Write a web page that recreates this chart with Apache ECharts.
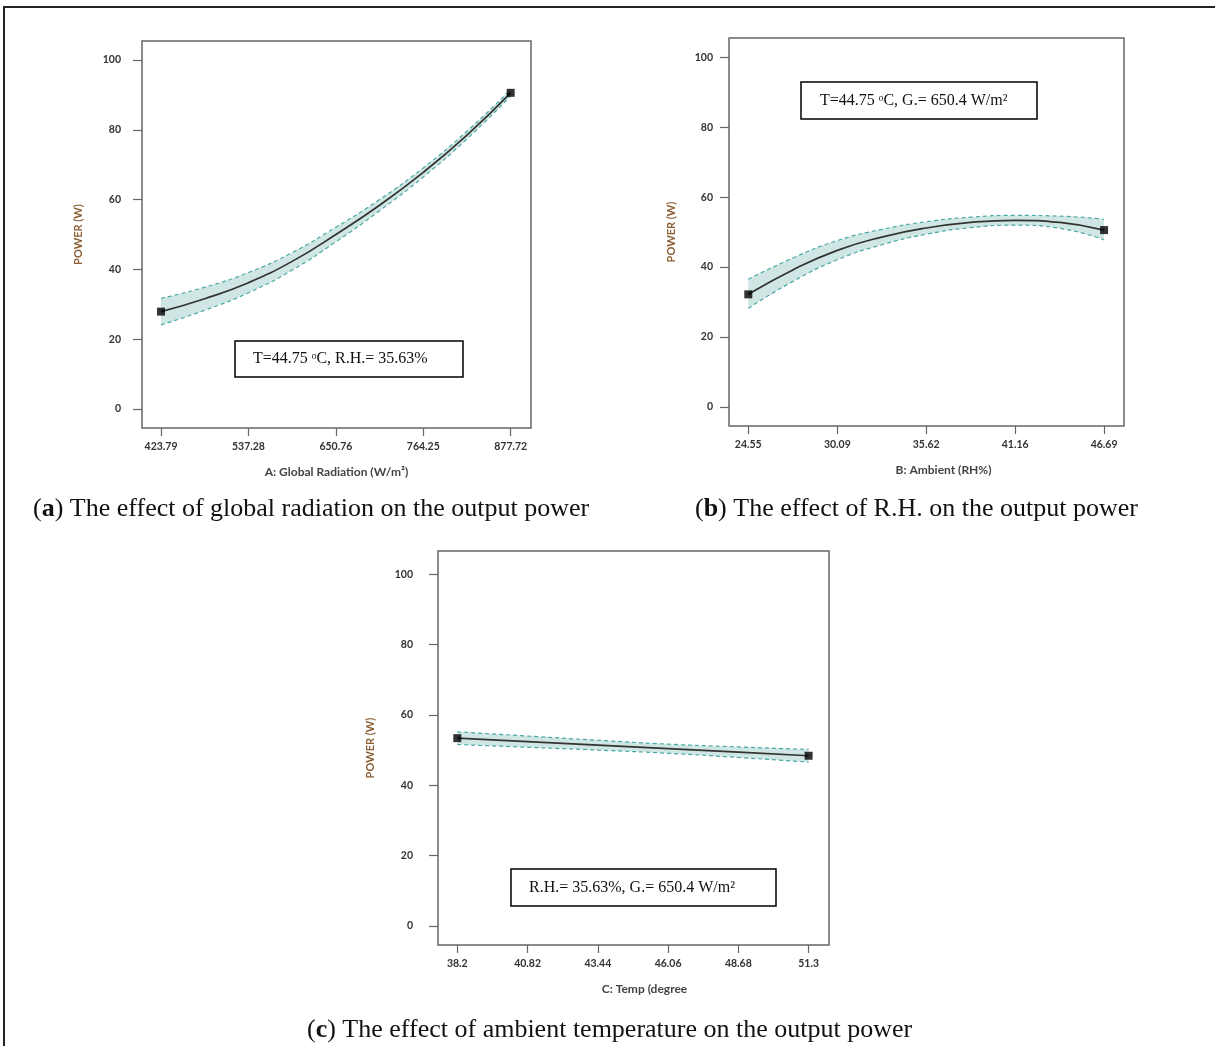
<!DOCTYPE html>
<html>
<head>
<meta charset="utf-8">
<script src="https://cdn.jsdelivr.net/npm/echarts@6/dist/echarts.min.js"></script>
<style>
  html, body { margin: 0; padding: 0; background: #fff; }
  #frame {
    position: absolute; left: 3px; top: 6px; width: 1215px; height: 1046px;
    border-top: 2px solid #222; border-left: 2px solid #222;
  }
  #main { position: absolute; left: 0; top: 0; width: 1215px; height: 1046px; }
</style>
</head>
<body>
<div id="frame"></div>
<div id="main"></div>
<script>
// (a) global radiation
const aX = [423.79, 480.5, 537.28, 594, 650.76, 707.5, 764.25, 821, 877.72];
const aMid = [27.9, 31.6, 36.2, 42.3, 50.0, 58.4, 67.8, 78.5, 90.6];
const aUp = [31.7, 34.9, 39.1, 44.8, 52.1, 60.0, 69.1, 79.6, 91.5];
const aLow = [24.1, 28.3, 33.3, 39.8, 47.9, 56.8, 66.5, 77.4, 89.7];
const aTicks = [423.79, 537.28, 650.76, 764.25, 877.72];

// (b) relative humidity
const bX = [24.55, 27.32, 30.09, 32.86, 35.62, 38.39, 41.16, 43.93, 46.69];
const bMid = [32.2, 39.2, 44.8, 48.6, 51.2, 52.8, 53.4, 52.8, 50.6];
const bUp = [36.5, 42.6, 47.6, 50.8, 53.0, 54.3, 54.8, 54.6, 53.7];
const bLow = [28.2, 35.9, 42.1, 46.4, 49.4, 51.3, 52.0, 51.1, 47.8];
const bTicks = [24.55, 30.09, 35.62, 41.16, 46.69];

// (c) ambient temperature
const cX = [38.2, 40.82, 43.44, 46.06, 48.68, 51.3];
const cMid = [53.4, 52.4, 51.4, 50.4, 49.4, 48.4];
const cUp = [55.2, 54.0, 52.8, 51.7, 50.9, 50.2];
const cLow = [51.6, 50.8, 50.0, 49.1, 47.9, 46.6];
const cTicks = [38.2, 40.82, 43.44, 46.06, 48.68, 51.3];

const yTicks = [0, 20, 40, 60, 80, 100];

const chart = echarts.init(document.getElementById('main'), null, { renderer: 'canvas' });

const boxColor = '#666';
const tealLine = '#4aa8a4';
const tealFill = '#cfe6e4';
const axisFont = 'Lato';

function xAxisOf(idx, min, max, ticks, name, shift) {
  return {
    type: 'value', gridIndex: idx, min: min, max: max,
    name: name, nameLocation: 'middle', nameGap: 38,
    nameTextStyle: { fontFamily: axisFont, fontSize: 12, color: '#444', fontWeight: 'bold', padding: [0, 0, 0, shift] },
    axisLine: { show: false, onZero: false },
    axisTick: { show: true, length: 8, customValues: ticks, lineStyle: { color: boxColor, width: 1.2 } },
    axisLabel: { customValues: ticks, margin: 13, fontFamily: axisFont, fontSize: 10.5, color: '#333', fontWeight: 'bold' },
    splitLine: { show: false }
  };
}

function yAxisOf(idx, min, max, labelMargin, nameGap) {
  return {
    type: 'value', gridIndex: idx, min: min, max: max,
    name: 'POWER (W)', nameLocation: 'middle', nameGap: nameGap, nameRotate: 90,
    nameTextStyle: { fontFamily: axisFont, fontSize: 11, color: '#8b5e34', fontWeight: 'bold' },
    axisLine: { show: false, onZero: false },
    axisTick: { show: true, length: 9, customValues: yTicks, lineStyle: { color: boxColor, width: 1.2 } },
    axisLabel: { customValues: yTicks, margin: labelMargin, fontFamily: axisFont, fontSize: 10.5, color: '#333', fontWeight: 'bold' },
    splitLine: { show: false }
  };
}

// band: lower bound + (upper - lower) stacked on it.
// data is [y, x] so that the first (stacked) dimension is y.
function panelSeries(idx, xs, mid, up, low) {
  const dashed = { color: tealLine, width: 1.2, type: [4, 3] };
  const stackId = 'band' + idx;
  return [
    {
      type: 'line', xAxisIndex: idx, yAxisIndex: idx, smooth: true, z: 2,
      stack: stackId, encode: { x: 1, y: 0 },
      symbol: 'none', lineStyle: dashed,
      data: xs.map((x, i) => [low[i], x])
    },
    {
      type: 'line', xAxisIndex: idx, yAxisIndex: idx, smooth: true, z: 2,
      stack: stackId, encode: { x: 1, y: 0 },
      symbol: 'none', lineStyle: dashed, areaStyle: { color: tealFill, opacity: 1 },
      data: xs.map((x, i) => [+(up[i] - low[i]).toFixed(2), x])
    },
    {
      type: 'line', xAxisIndex: idx, yAxisIndex: idx, smooth: true, z: 4,
      symbol: 'none', lineStyle: { color: '#333', width: 1.7 },
      data: xs.map((x, i) => [x, mid[i]])
    },
    {
      type: 'scatter', xAxisIndex: idx, yAxisIndex: idx, symbol: 'rect', symbolSize: 8,
      itemStyle: { color: '#000' }, z: 5,
      data: [[xs[0], mid[0]], [xs[xs.length - 1], mid[mid.length - 1]]]
    }
  ];
}

function noteBox(x, y, w, h, textLeft, text) {
  return {
    type: 'group', z: 100, children: [
      { type: 'rect', z: 100, shape: { x: x, y: y, width: w, height: h },
        style: { fill: '#fff', stroke: '#000', lineWidth: 1.5 } },
      { type: 'text', z: 101, x: textLeft, y: y + h / 2,
        style: { text: text, font: '16px "Liberation Serif"', fill: '#111', verticalAlign: 'middle' } }
    ]
  };
}

const captionStyle = {
  fontFamily: 'Liberation Serif', fontSize: 26, color: '#111', fontWeight: 'normal',
  rich: { b: { fontFamily: 'Liberation Serif', fontSize: 26, fontWeight: 'bold', color: '#111' } }
};

const option = {
  animation: false,
  title: [
    { text: '({b|a}) The effect of global radiation on the output power', left: 33, top: 496, padding: 0, textStyle: captionStyle },
    { text: '({b|b}) The effect of R.H. on the output power', left: 695, top: 496, padding: 0, textStyle: captionStyle },
    { text: '({b|c}) The effect of ambient temperature on the output power', left: 307, top: 1017, padding: 0, textStyle: captionStyle }
  ],
  grid: [
    { left: 142, top: 41, width: 389, height: 387, show: true, borderColor: boxColor, borderWidth: 1.5 },
    { left: 729, top: 38, width: 395, height: 388, show: true, borderColor: boxColor, borderWidth: 1.5 },
    { left: 438, top: 551, width: 391, height: 394, show: true, borderColor: boxColor, borderWidth: 1.5 }
  ],
  xAxis: [
    xAxisOf(0, 399.1, 904.1, aTicks, 'A: Global Radiation (W/m²)', 0),
    xAxisOf(1, 23.35, 47.93, bTicks, 'B: Ambient (RH%)', 34),
    xAxisOf(2, 37.48, 52.06, cTicks, 'C: Temp (degree', 22)
  ],
  yAxis: [
    yAxisOf(0, -5.45, 105.45, 21, 58),
    yAxisOf(1, -5.5, 105.6, 16, 52),
    yAxisOf(2, -5.4, 106.6, 25, 62)
  ],
  series: [].concat(
    panelSeries(0, aX, aMid, aUp, aLow),
    panelSeries(1, bX, bMid, bUp, bLow),
    panelSeries(2, cX, cMid, cUp, cLow)
  ),
  graphic: [
    noteBox(235, 341, 228, 36, 253, 'T=44.75 ᵒC, R.H.= 35.63%'),
    noteBox(801, 82, 236, 37, 820, 'T=44.75 ᵒC, G.= 650.4 W/m²'),
    noteBox(511, 869, 265, 37, 529, 'R.H.= 35.63%, G.= 650.4 W/m²')
  ]
};

chart.setOption(option);
</script>
</body>
</html>
